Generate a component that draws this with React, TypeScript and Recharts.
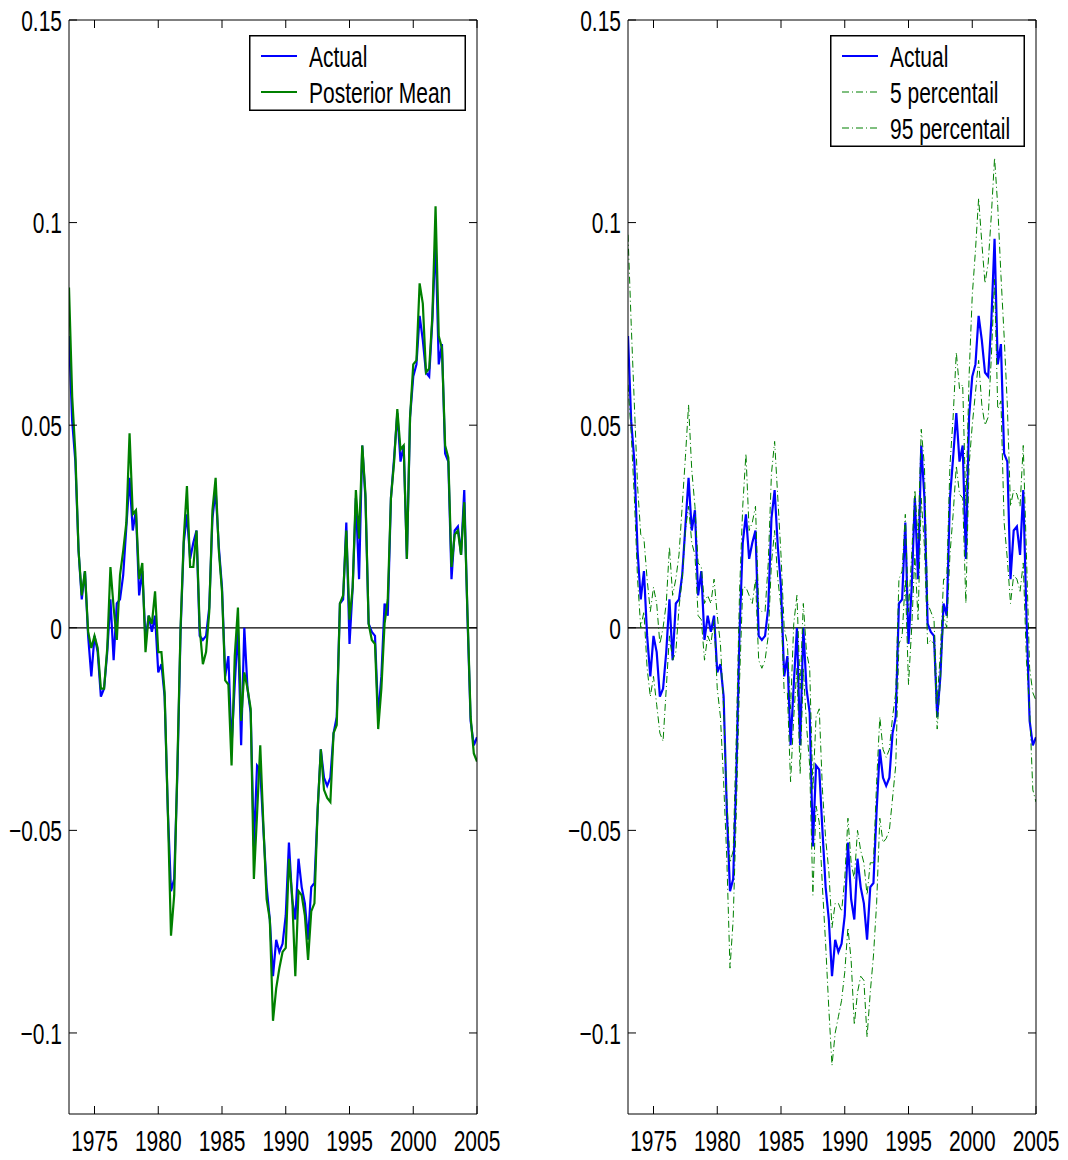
import React from "react";
import { LineChart, Line, XAxis, YAxis, ReferenceLine, Legend } from "recharts";

// quarterly observations, 1973Q1 .. 2005Q1
const START_YEAR = 1973;

const ACTUAL = [
  0.072, 0.051, 0.041, 0.019, 0.007, 0.014, -0.002, -0.012,
  -0.002, -0.006, -0.017, -0.015, -0.006, 0.007, -0.008, 0.006,
  0.007, 0.013, 0.025, 0.037, 0.024, 0.029, 0.008, 0.014,
  -0.003, 0.003, -0.001, 0.003, -0.011, -0.009, -0.017, -0.045,
  -0.065, -0.062, -0.036, -0.001, 0.021, 0.028, 0.017, 0.021,
  0.024, -0.002, -0.003, -0.002, 0.005, 0.027, 0.034, 0.02,
  0.01, -0.012, -0.007, -0.029, -0.014, 0.0, -0.029, 0.0,
  -0.015, -0.021, -0.054, -0.034, -0.035, -0.05, -0.064, -0.072,
  -0.086, -0.077, -0.08, -0.078, -0.071, -0.053, -0.067, -0.072,
  -0.057, -0.064, -0.068, -0.077, -0.064, -0.063, -0.045, -0.03,
  -0.037, -0.039, -0.037, -0.026, -0.022, 0.006, 0.007, 0.026,
  -0.004, 0.01, 0.032, 0.012, 0.045, 0.032, 0.001, -0.001,
  -0.002, -0.022, -0.012, 0.006, 0.003, 0.032, 0.042, 0.053,
  0.041, 0.045, 0.017, 0.052, 0.062, 0.065, 0.077, 0.071,
  0.063, 0.062, 0.076, 0.096, 0.065, 0.07, 0.043, 0.041,
  0.012, 0.024, 0.025, 0.018, 0.034, 0.003, -0.023, -0.029,
  -0.027,
];

const POSTERIOR_MEAN = [
  0.084, 0.057, 0.043, 0.019, 0.008, 0.014, -0.001, -0.005,
  -0.002, -0.005, -0.015, -0.015, -0.005, 0.015, 0.005, -0.003,
  0.013, 0.019, 0.026, 0.048, 0.028, 0.029, 0.012, 0.016,
  -0.006, 0.003, 0.001, 0.009, -0.006, -0.006, -0.016, -0.045,
  -0.076, -0.066, -0.034, 0.0, 0.022, 0.035, 0.015, 0.015,
  0.024, 0.0, -0.009, -0.006, 0.004, 0.029, 0.037, 0.019,
  0.009, -0.013, -0.014, -0.034, -0.007, 0.005, -0.023, -0.011,
  -0.015, -0.02, -0.062, -0.046, -0.029, -0.049, -0.067, -0.072,
  -0.097, -0.089, -0.084, -0.08, -0.079, -0.057, -0.066, -0.086,
  -0.065, -0.066, -0.071, -0.082, -0.07, -0.068, -0.045, -0.03,
  -0.04, -0.042, -0.043, -0.026, -0.024, 0.006, 0.008, 0.024,
  0.002, 0.01, 0.034, 0.022, 0.045, 0.033, 0.001, -0.003,
  -0.004, -0.025, -0.015, 0.001, 0.007, 0.032, 0.041, 0.054,
  0.044, 0.045, 0.017, 0.052, 0.065, 0.066, 0.085, 0.08,
  0.063, 0.064, 0.077, 0.104, 0.072, 0.069, 0.045, 0.042,
  0.015, 0.023, 0.024, 0.018, 0.031, 0.004, -0.022, -0.031,
  -0.033,
];

const P5 = [
  0.06, 0.048, 0.032, 0.012, 0.0, 0.004, -0.01, -0.017,
  -0.012, -0.019, -0.026, -0.028, -0.015, -0.002, -0.008, -0.006,
  0.005, 0.012, 0.024, 0.03, 0.021, 0.018, 0.003, 0.002,
  -0.008, -0.002, -0.004, 0.002, -0.015, -0.022, -0.038, -0.057,
  -0.084, -0.072, -0.045, -0.013, 0.01, 0.01, 0.008, 0.006,
  0.012, -0.008, -0.01, -0.008, -0.002, 0.016, 0.024, 0.012,
  0.005, -0.016, -0.016, -0.038, -0.022, -0.01, -0.036, -0.01,
  -0.024, -0.034, -0.066, -0.044, -0.048, -0.064, -0.078, -0.094,
  -0.108, -0.1, -0.096, -0.092, -0.085, -0.074, -0.082, -0.098,
  -0.09, -0.086, -0.087, -0.101, -0.09, -0.081, -0.068, -0.047,
  -0.053, -0.052, -0.05, -0.042, -0.034, -0.004, -0.002, 0.012,
  -0.014, 0.0, 0.018, 0.002, 0.032, 0.02, -0.004, -0.003,
  -0.004, -0.025, -0.013, 0.003, 0.0, 0.018, 0.028, 0.04,
  0.033, 0.032, 0.006, 0.04, 0.05, 0.058, 0.066, 0.055,
  0.05, 0.052, 0.067, 0.086, 0.054, 0.056, 0.026, 0.017,
  0.006, 0.013, 0.012, 0.009, 0.016, -0.008, -0.02, -0.04,
  -0.043,
];

const P95 = [
  0.097, 0.075, 0.055, 0.035, 0.023, 0.022, 0.012, 0.004,
  0.01, 0.006, -0.004, 0.0, 0.006, 0.02, 0.008, 0.012,
  0.018, 0.03, 0.042, 0.055, 0.039, 0.03, 0.016, 0.015,
  0.006, 0.008, 0.006, 0.012, 0.003, -0.004, -0.02, -0.042,
  -0.058, -0.055, -0.026, 0.009, 0.03, 0.043, 0.024, 0.026,
  0.03, 0.005, 0.004, 0.004, 0.016, 0.038, 0.046, 0.032,
  0.018, 0.0, -0.004, -0.02, 0.001, 0.008, -0.015, 0.006,
  -0.006, -0.01, -0.04, -0.022, -0.02, -0.04, -0.052, -0.06,
  -0.074, -0.068, -0.068, -0.07, -0.062, -0.047, -0.058, -0.062,
  -0.05, -0.055, -0.058, -0.066, -0.058, -0.058, -0.038, -0.022,
  -0.03, -0.032, -0.03, -0.022, -0.016, 0.012, 0.014, 0.028,
  0.004, 0.018, 0.034, 0.022, 0.049, 0.04, 0.006, 0.004,
  0.002, -0.018, -0.006, 0.012, 0.012, 0.04, 0.052, 0.068,
  0.059, 0.06, 0.03, 0.062, 0.082, 0.093, 0.106, 0.095,
  0.085, 0.09, 0.102, 0.116, 0.104, 0.087, 0.072, 0.055,
  0.03, 0.034, 0.033, 0.03, 0.045, 0.018, -0.01, -0.016,
  -0.018,
];

const X_TICKS = [1975, 1980, 1985, 1990, 1995, 2000, 2005];
const Y_TICKS = [-0.1, -0.05, 0, 0.05, 0.1, 0.15];
const X_DOMAIN: [number, number] = [1973, 2005];
const Y_DOMAIN: [number, number] = [-0.12, 0.15];

const data = ACTUAL.map((v, i) => ({
  t: START_YEAR + i / 4,
  actual: v,
  mean: POSTERIOR_MEAN[i],
  p5: P5[i],
  p95: P95[i],
}));

const BLUE = "#0000ff";
const GREEN = "#008000";
const FONT = '"Liberation Sans", Arial, Helvetica, sans-serif';
const SQUEEZE = 0.7;

type Series = { key: string; name: string; color: string; width: number; dash?: string };

const LEFT_SERIES: Series[] = [
  { key: "actual", name: "Actual", color: BLUE, width: 2.2 },
  { key: "mean", name: "Posterior Mean", color: GREEN, width: 2.2 },
];

const RIGHT_SERIES: Series[] = [
  { key: "actual", name: "Actual", color: BLUE, width: 2.2 },
  { key: "p5", name: "5 percentail", color: GREEN, width: 1, dash: "7 3 1 3" },
  { key: "p95", name: "95 percentail", color: GREEN, width: 1, dash: "7 3 1 3" },
];

const fmtY = (v: number) => String(v).replace("-", "\u2212");

function YTick({ x, y, payload }: any) {
  return (
    <g transform={`translate(${x},${y}) scale(${SQUEEZE},1)`}>
      <text textAnchor="end" dy="0.36em" fontFamily={FONT} fontSize={30} fill="#000">
        {fmtY(payload.value)}
      </text>
    </g>
  );
}

function XTick({ x, y, payload }: any) {
  return (
    <g transform={`translate(${x},${y}) scale(${SQUEEZE},1)`}>
      <text textAnchor="middle" dy="0.71em" fontFamily={FONT} fontSize={30} fill="#000">
        {payload.value}
      </text>
    </g>
  );
}

// box sides: tick marks only, no labels
function NoLabel() {
  return <g />;
}

function LegendBox({ series, width, height }: { series: Series[]; width: number; height: number }) {
  return (
    <svg width={width} height={height} style={{ display: "block" }}>
      <rect x={0.75} y={0.75} width={width - 1.5} height={height - 1.5} fill="#fff" stroke="#000" strokeWidth={1.5} />
      {series.map((s, i) => {
        const cy = 21 + i * 36;
        return (
          <g key={s.key}>
            <line x1={12} x2={48} y1={cy} y2={cy} stroke={s.color} strokeWidth={s.dash ? 1.2 : 2.2} strokeDasharray={s.dash} />
            <g transform={`translate(60,${cy}) scale(${SQUEEZE},1)`}>
              <text dy="0.36em" fontFamily={FONT} fontSize={30} fill="#000">
                {s.name}
              </text>
            </g>
          </g>
        );
      })}
    </svg>
  );
}

function Panel({
  series,
  left,
  width,
  rightMargin,
  legendLeft,
  legendWidth,
}: {
  series: Series[];
  left: number;
  width: number;
  rightMargin: number;
  legendLeft: number;
  legendWidth: number;
}) {
  const legendHeight = 4 + series.length * 36;
  const axisStroke = { stroke: "#000", strokeWidth: 1 };
  return (
    <div style={{ position: "absolute", left, top: 0 }}>
      <LineChart width={width} height={1160} data={data} margin={{ top: 19, right: rightMargin, bottom: 0, left: 0 }}>
        <XAxis
          dataKey="t"
          type="number"
          domain={X_DOMAIN}
          ticks={X_TICKS}
          allowDataOverflow
          height={46}
          tickSize={-8}
          tickMargin={24}
          tick={<XTick />}
          axisLine={axisStroke}
          tickLine={axisStroke}
        />
        <XAxis
          xAxisId="top"
          orientation="top"
          dataKey="t"
          type="number"
          domain={X_DOMAIN}
          ticks={X_TICKS}
          allowDataOverflow
          height={1}
          tickSize={-8}
          tick={<NoLabel />}
          axisLine={axisStroke}
          tickLine={axisStroke}
        />
        <YAxis
          type="number"
          domain={Y_DOMAIN}
          ticks={Y_TICKS}
          allowDataOverflow
          width={69}
          tickSize={-8}
          tickMargin={15}
          tick={<YTick />}
          axisLine={axisStroke}
          tickLine={axisStroke}
        />
        <YAxis
          yAxisId="r"
          orientation="right"
          type="number"
          domain={Y_DOMAIN}
          ticks={Y_TICKS}
          allowDataOverflow
          width={1}
          tickSize={-8}
          tick={<NoLabel />}
          axisLine={axisStroke}
          tickLine={axisStroke}
        />
        <ReferenceLine y={0} stroke="#000" strokeWidth={1.2} />
        {series.map((s) => (
          <Line
            key={s.key}
            dataKey={s.key}
            name={s.name}
            type="linear"
            stroke={s.color}
            strokeWidth={s.width}
            strokeDasharray={s.dash}
            dot={false}
            activeDot={false}
            isAnimationActive={false}
          />
        ))}
        <Legend
          layout="horizontal"
          verticalAlign="middle"
          align="center"
          wrapperStyle={{ left: legendLeft, top: 35, width: legendWidth, height: legendHeight }}
          content={() => <LegendBox series={series} width={legendWidth} height={legendHeight} />}
        />
      </LineChart>
    </div>
  );
}

export default function App() {
  return (
    <div style={{ position: "absolute", left: 0, top: 0, width: 1068, height: 1160, background: "#fff" }}>
      <Panel series={LEFT_SERIES} left={0} width={520} rightMargin={42} legendLeft={249} legendWidth={217} />
      <Panel series={RIGHT_SERIES} left={559} width={509} rightMargin={31} legendLeft={271} legendWidth={195} />
    </div>
  );
}
